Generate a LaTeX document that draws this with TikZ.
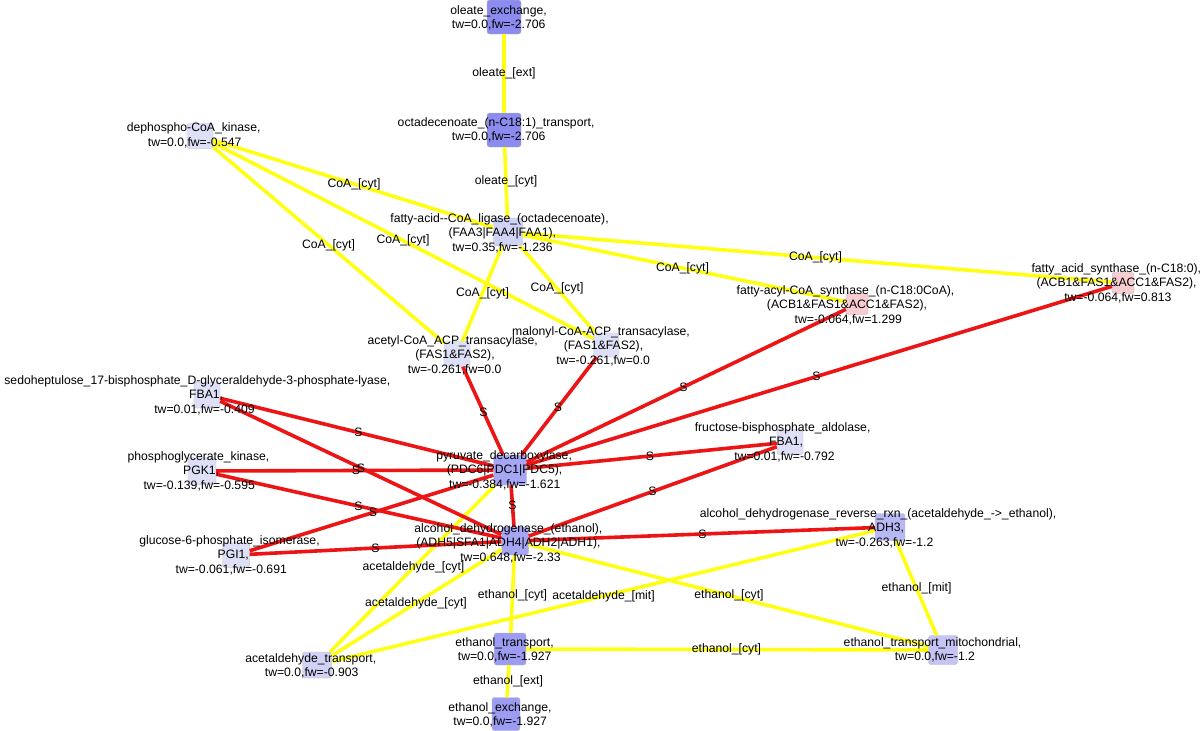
\documentclass[tikz,border=0pt]{standalone}
\usepackage{fontspec}
\setmainfont{Liberation Sans}
\usetikzlibrary{calc}
\definecolor{yel}{HTML}{FFFF14}
\definecolor{rd}{HTML}{EC1414}
\definecolor{ndark}{HTML}{8C8CF0}
\definecolor{ndarkb}{HTML}{9C9CF2}
\definecolor{nmid}{HTML}{A6A6F4}
\definecolor{nmidb}{HTML}{B8B8F4}
\definecolor{nmidc}{HTML}{C4C4F5}
\definecolor{nlight}{HTML}{D0D3F6}
\definecolor{nlighter}{HTML}{DEE0F8}
\definecolor{npink}{HTML}{F8CDD2}
\newcommand\lnb[1]{\makebox[1.05\width][l]{#1}}
\begin{document}
\begin{tikzpicture}[x=1pt,y=-1pt,
  sq/.style={draw=gray!55, line width=0.4pt, rounded corners=2.5pt, inner sep=0pt},
  lab/.style={align=center, font=\fontsize{12.2}{14.6}\selectfont, inner sep=0pt},
  elab/.style={font=\fontsize{12.2}{14.6}\selectfont, inner sep=0pt},
  yedge/.style={draw=yel, line width=3.6pt},
  redge/.style={draw=rd, line width=3.6pt}]
\fill[white] (0,0) rectangle (1200,731);
\useasboundingbox (0,0) rectangle (1200,731);
% squares
\node[sq, fill=ndark, minimum width=34, minimum height=34] (oex) at (504,17) {};
\node[sq, fill=ndark, minimum width=34, minimum height=34] (otr) at (504,130) {};
\node[sq, fill=nlighter, minimum width=26, minimum height=25] (dpk) at (200,136) {};
\node[sq, fill=nlight, minimum width=29, minimum height=28] (lig) at (508,232) {};
\node[sq, fill=nlighter, minimum width=26, minimum height=25] (acp) at (457,354) {};
\node[sq, fill=nlighter, minimum width=25, minimum height=24] (mal) at (606,345) {};
\node[sq, fill=npink, minimum width=22, minimum height=21] (fac) at (857,304) {};
\node[sq, fill=npink, minimum width=22, minimum height=21] (fas) at (1123,283) {};
\node[sq, fill=nlighter, minimum width=26, minimum height=26] (sed) at (207,395) {};
\node[sq, fill=nlighter, minimum width=28, minimum height=27] (pgk) at (202,471) {};
\node[sq, fill=nlighter, minimum width=27, minimum height=25] (pgi) at (236,555) {};
\node[sq, fill=nmid, minimum width=33, minimum height=30] (pdc) at (510,470) {};
\node[sq, fill=nmid, minimum width=27, minimum height=28] (adh) at (515,541) {};
\node[sq, fill=nlighter, minimum width=26, minimum height=25] (fba) at (790,442) {};
\node[sq, fill=nmidb, minimum width=30, minimum height=27] (adhr) at (890,527) {};
\node[sq, fill=nlight, minimum width=29, minimum height=26] (atr) at (317,665) {};
\node[sq, fill=ndarkb, minimum width=32, minimum height=32] (etr) at (510,649) {};
\node[sq, fill=ndarkb, minimum width=28, minimum height=33] (eex) at (506,714) {};
\node[sq, fill=nmidc, minimum width=29, minimum height=29] (emt) at (943,650) {};
% yellow edges
\draw[yedge] (oex) -- (otr);
\draw[yedge] (otr) -- (lig);
\draw[yedge] (dpk) -- (lig);
\draw[yedge] (dpk) -- (acp);
\draw[yedge] (dpk) -- (mal);
\draw[yedge] (lig) -- (acp);
\draw[yedge] (lig) -- (mal);
\draw[yedge] (lig) -- (fac);
\draw[yedge] (lig) -- (fas);
\draw[yedge] (pdc) -- (atr);
\draw[yedge] (adh) -- (atr);
\draw[yedge] (adh) -- (etr);
\draw[yedge] (atr) -- (adhr);
\draw[yedge] (adh) -- (emt);
\draw[yedge] (etr) -- (emt);
\draw[yedge] (adhr) -- (emt);
\draw[yedge] (etr) -- (eex);
% red edges
\draw[redge] (acp) -- (pdc);
\draw[redge] (mal) -- (pdc);
\draw[redge] (fac) -- (pdc);
\draw[redge] (fas) -- (pdc);
\draw[redge] (sed) -- (pdc);
\draw[redge] (sed) -- (adh);
\draw[redge] (pgk) -- (pdc);
\draw[redge] (pgk) -- (adh);
\draw[redge] (pgi) -- (pdc);
\draw[redge] (pgi) -- (adh);
\draw[redge] (fba) -- (pdc);
\draw[redge] (fba) -- (adh);
\draw[redge] (pdc) -- (adh);
\draw[redge] (adhr) -- (adh);
% edge labels
\node[elab] (e1) at ($(oex)!.5!(otr)$) {oleate\_[ext]};
\node[elab] (e2) at ($(otr)!.5!(lig)$) {oleate\_[cyt]};
\node[elab] (e3) at ($(dpk)!.5!(lig)$) {CoA\_[cyt]};
\node[elab] (e4) at ($(dpk)!.5!(acp)$) {CoA\_[cyt]};
\node[elab] (e5) at ($(dpk)!.5!(mal)$) {CoA\_[cyt]};
\node[elab] (e6) at ($(lig)!.5!(acp)$) {CoA\_[cyt]};
\node[elab] (e7) at ($(lig)!.5!(mal)$) {CoA\_[cyt]};
\node[elab] (e8) at ($(lig)!.5!(fac)$) {CoA\_[cyt]};
\node[elab] (e9) at ($(lig)!.5!(fas)$) {CoA\_[cyt]};
\node[elab] (e10) at ($(pdc)!.5!(atr)$) {acetaldehyde\_[cyt]};
\node[elab] (e11) at ($(adh)!.5!(atr)$) {acetaldehyde\_[cyt]};
\node[elab] (e12) at ($(adh)!.5!(etr)$) {ethanol\_[cyt]};
\node[elab] (e13) at ($(atr)!.5!(adhr)$) {acetaldehyde\_[mit]};
\node[elab] (e14) at ($(adh)!.5!(emt)$) {ethanol\_[cyt]};
\node[elab] (e15) at ($(etr)!.5!(emt)$) {ethanol\_[cyt]};
\node[elab] (e16) at ($(adhr)!.5!(emt)$) {ethanol\_[mit]};
\node[elab] (e17) at ($(etr)!.5!(eex)$) {ethanol\_[ext]};
\node[elab] (s1) at ($(acp)!.5!(pdc)$) {S};
\node[elab] (s2) at ($(mal)!.5!(pdc)$) {S};
\node[elab] (s3) at ($(fac)!.5!(pdc)$) {S};
\node[elab] (s4) at ($(fas)!.5!(pdc)$) {S};
\node[elab] (s5) at ($(sed)!.5!(pdc)$) {S};
\node[elab] (s6) at ($(sed)!.5!(adh)$) {S};
\node[elab] (s7) at ($(pgk)!.5!(pdc)$) {S};
\node[elab] (s8) at ($(pgk)!.5!(adh)$) {S};
\node[elab] (s9) at ($(pgi)!.5!(pdc)$) {S};
\node[elab] (s10) at ($(pgi)!.5!(adh)$) {S};
\node[elab] (s11) at ($(fba)!.5!(pdc)$) {S};
\node[elab] (s12) at ($(fba)!.5!(adh)$) {S};
\node[elab] (s13) at ($(pdc)!.5!(adh)$) {S};
\node[elab] (s14) at ($(adhr)!.5!(adh)$) {S};
% node labels
\node[lab] (oexL) at (501,18) {\lnb{oleate\_exchange,}\\\lnb{tw=0.0,fw=-2.706}};
\node[lab] (otrL) at (501,130) {\lnb{octadecenoate\_(n-C18:1)\_transport,}\\\lnb{tw=0.0,fw=-2.706}};
\node[lab] (dpkL) at (197,135.5) {\lnb{dephospho-CoA\_kinase,}\\\lnb{tw=0.0,fw=-0.547}};
\node[lab] (ligL) at (505,233) {\lnb{fatty-acid-{}-CoA\_ligase\_(octadecenoate),}\\\lnb{(FAA3|FAA4|FAA1),}\\\lnb{tw=0.35,fw=-1.236}};
\node[lab] (acpL) at (457,355) {\lnb{acetyl-CoA\_ACP\_transacylase,}\\\lnb{(FAS1\&FAS2),}\\\lnb{tw=-0.261,fw=0.0}};
\node[lab] (malL) at (605.5,346) {\lnb{malonyl-CoA-ACP\_transacylase,}\\\lnb{(FAS1\&FAS2),}\\\lnb{tw=-0.261,fw=0.0}};
\node[lab] (facL) at (851,305) {\lnb{fatty-acyl-CoA\_synthase\_(n-C18:0CoA),}\\\lnb{(ACB1\&FAS1\&ACC1\&FAS2),}\\\lnb{tw=-0.064,fw=1.299}};
\node[lab] (fasL) at (1120.5,283) {\lnb{fatty\_acid\_synthase\_(n-C18:0),}\\\lnb{(ACB1\&FAS1\&ACC1\&FAS2),}\\\lnb{tw=-0.064,fw=0.813}};
\node[lab] (sedL) at (207,395) {\lnb{sedoheptulose\_17-bisphosphate\_D-glyceraldehyde-3-phosphate-lyase,}\\\lnb{FBA1,}\\\lnb{tw=0.01,fw=-0.409}};
\node[lab] (pgkL) at (202,471) {\lnb{phosphoglycerate\_kinase,}\\\lnb{PGK1,}\\\lnb{tw=-0.139,fw=-0.595}};
\node[lab] (pgiL) at (234,555) {\lnb{glucose-6-phosphate\_isomerase,}\\\lnb{PGI1,}\\\lnb{tw=-0.061,fw=-0.691}};
\node[lab] (pdcL) at (507.5,470) {\lnb{pyruvate\_decarboxylase,}\\\lnb{(PDC6|PDC1|PDC5),}\\\lnb{tw=-0.384,fw=-1.621}};
\node[lab] (adhL) at (513,543) {\lnb{alcohol\_dehydrogenase\_(ethanol),}\\\lnb{(ADH5|SFA1|ADH4|ADH2|ADH1),}\\\lnb{tw=0.648,fw=-2.33}};
\node[lab] (fbaL) at (787,442) {\lnb{fructose-bisphosphate\_aldolase,}\\\lnb{FBA1,}\\\lnb{tw=0.01,fw=-0.792}};
\node[lab] (adhrL) at (887,528) {\lnb{alcohol\_dehydrogenase\_reverse\_rxn\_(acetaldehyde\_->\_ethanol),}\\\lnb{ADH3,}\\\lnb{tw=-0.263,fw=-1.2}};
\node[lab] (atrL) at (314,666) {\lnb{acetaldehyde\_transport,}\\\lnb{tw=0.0,fw=-0.903}};
\node[lab] (etrL) at (507,650) {\lnb{ethanol\_transport,}\\\lnb{tw=0.0,fw=-1.927}};
\node[lab] (eexL) at (502.5,715) {\lnb{ethanol\_exchange,}\\\lnb{tw=0.0,fw=-1.927}};
\node[lab] (emtL) at (937,650) {\lnb{ethanol\_transport\_mitochondrial,}\\\lnb{tw=0.0,fw=-1.2}};
\end{tikzpicture}
\end{document}
